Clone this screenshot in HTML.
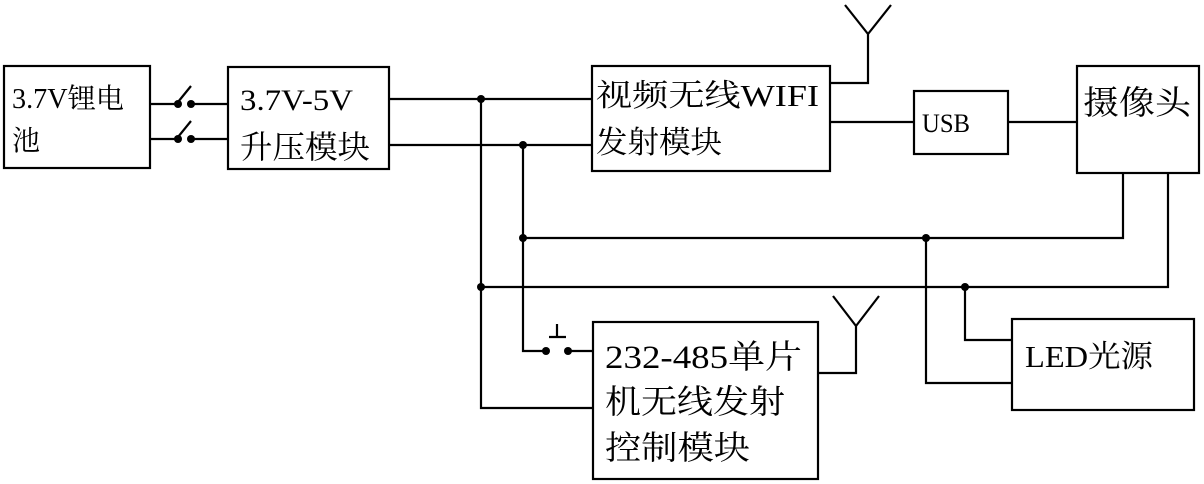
<!DOCTYPE html>
<html><head><meta charset="utf-8"><style>
html,body{margin:0;padding:0;background:#fff;}
svg{display:block;}
text{font-family:"Liberation Serif","Noto Serif CJK SC",serif;fill:#000;}
</style></head><body>
<svg width="1204" height="484" viewBox="0 0 1204 484" xmlns="http://www.w3.org/2000/svg">
<g fill="none" stroke="#000" stroke-width="2.2">
<rect x="4" y="66" width="146" height="102"/>
<rect x="228" y="67" width="161" height="102"/>
<rect x="592" y="66" width="238" height="105"/>
<rect x="914" y="91" width="94" height="63"/>
<rect x="1077" y="66" width="122" height="107"/>
<rect x="593" y="322" width="225" height="157"/>
<rect x="1012" y="319" width="182" height="91"/>
<!-- battery to switches -->
<path d="M150 104H176 M194 104H228 M150 139H176 M194 139H228"/>
<path d="M178 102L191 86 M178 137L191 121"/>
<!-- boost outputs -->
<path d="M389 99H592 M389 145H592"/>
<path d="M481 99V408H593"/>
<path d="M523 145V351H544 M570 351H593"/>
<path d="M557 324V337 M549 337H566"/>
<path d="M523 238H1123V173 M481 287H1168V173"/>
<path d="M926 238V383H1012 M965 287V340H1012"/>
<!-- wifi antenna -->
<path d="M830 83H868V34 M845 5L868 34L891 5"/>
<path d="M830 122H914 M1008 122H1077"/>
<!-- lower antenna -->
<path d="M818 373H856V326 M833 296L856 326L879 296"/>
</g>
<g fill="#000">
<circle cx="178" cy="104" r="4"/><circle cx="191" cy="104" r="4"/>
<circle cx="178" cy="139" r="4"/><circle cx="191" cy="139" r="4"/>
<circle cx="481" cy="99" r="4"/><circle cx="523" cy="145" r="4"/>
<circle cx="523" cy="238" r="4"/><circle cx="481" cy="287" r="4"/>
<circle cx="926" cy="238" r="4"/><circle cx="965" cy="287" r="4"/>
<circle cx="546" cy="351" r="4"/><circle cx="568" cy="351" r="4"/>
</g>
<text x="12" y="108" font-size="28" textLength="112" lengthAdjust="spacingAndGlyphs">3.7V锂电</text>
<text x="12" y="150" font-size="28">池</text>
<text x="240" y="110" font-size="30" textLength="113" lengthAdjust="spacingAndGlyphs">3.7V-5V</text>
<text x="240" y="158" font-size="32" textLength="130" lengthAdjust="spacingAndGlyphs">升压模块</text>
<text x="596" y="106" font-size="31" textLength="223" lengthAdjust="spacingAndGlyphs">视频无线WIFI</text>
<text x="596" y="153" font-size="31" textLength="126" lengthAdjust="spacingAndGlyphs">发射模块</text>
<text x="922" y="132" font-size="26" textLength="48" lengthAdjust="spacingAndGlyphs">USB</text>
<text x="1083" y="114" font-size="33" textLength="108" lengthAdjust="spacingAndGlyphs">摄像头</text>
<text x="1025" y="367" font-size="31" textLength="128" lengthAdjust="spacingAndGlyphs">LED光源</text>
<text x="605" y="368" font-size="33" textLength="197" lengthAdjust="spacingAndGlyphs">232-485单片</text>
<text x="605" y="413" font-size="33" textLength="180" lengthAdjust="spacingAndGlyphs">机无线发射</text>
<text x="605" y="459" font-size="33" textLength="145" lengthAdjust="spacingAndGlyphs">控制模块</text>
</svg>
</body></html>
